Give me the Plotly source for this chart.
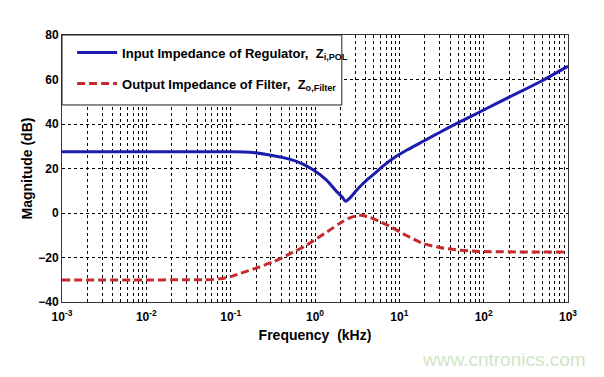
import plotly.graph_objects as go

# Input impedance of regulator (blue)
freq_in = [0.001, 0.01, 0.05, 0.1, 0.17, 0.29, 0.51, 0.72, 0.96, 1.37, 1.81, 2.1, 2.3,
           2.6, 2.9, 3.4, 4.1, 4.9, 6.5, 8.5, 12.3, 20, 30, 50, 91, 206, 468, 1000]
mag_in = [27.5, 27.5, 27.5, 27.5, 27.3, 26.1, 24.1, 22.0, 19.3, 14.8, 9.6, 7.2, 5.3,
          6.8, 8.9, 11.8, 14.8, 17.2, 21.3, 24.6, 28.3, 32.6, 36.2, 40.6, 45.5, 52.3, 59.0, 66.0]

# Output impedance of filter (red)
freq_out = [0.001, 0.01, 0.03, 0.05, 0.075, 0.1, 0.13, 0.2, 0.32, 0.5, 0.8, 1.4, 1.97, 2.5, 3.4, 4.5, 6.0, 7.8,
            12, 19, 30, 48, 80, 120, 1000]
mag_out = [-30.1, -30.1, -30.0, -30.0, -29.6, -28.6, -27.1, -24.8, -21.9, -18.4, -14.4, -8.4, -4.6, -2.4, -1.0,
           -2.0, -4.0, -6.1, -10.0, -13.6, -15.5, -16.6, -17.2, -17.4, -17.5]

x_tickvals = [1e-3, 1e-2, 1e-1, 1, 10, 100, 1000]
x_ticktext = ["10<sup>-3</sup>", "10<sup>-2</sup>", "10<sup>-1</sup>", "10<sup>0</sup>",
              "10<sup>1</sup>", "10<sup>2</sup>", "10<sup>3</sup>"]
y_tickvals = [-40, -20, 0, 20, 40, 60, 80]

name_in = "Input Impedance of Regulator,  Z<sub>i,POL</sub>"
name_out = "Output Impedance of Filter,  Z<sub>o,Filter</sub>"

FONT = "Liberation Sans, Arial, sans-serif"

fig = go.Figure()
fig.add_trace(go.Scatter(x=freq_in, y=mag_in, mode="lines", name=name_in,
                         line=dict(color="#1c1cae", width=3, shape="spline", smoothing=0.8),
                         legendgroup="a"))
fig.add_trace(go.Scatter(x=freq_out, y=mag_out, mode="lines", name=name_out,
                         line=dict(color="#c62a2c", width=3, dash="8px,4px", shape="spline", smoothing=0.8),
                         legendgroup="b"))

# legend box background (covers the grid like the original)
fig.add_shape(type="rect", xref="paper", yref="paper", x0=0, x1=0.553, y0=0.738, y1=1,
              fillcolor="white", line=dict(color="#222", width=1), layer="above")

# page body has an 8px margin, so the figure is 8px smaller and margins shifted
fig.update_layout(
    width=596, height=369,
    margin=dict(l=54, r=36, t=27, b=75),
    paper_bgcolor="white", plot_bgcolor="white",
    font=dict(family=FONT, color="black", size=12, weight="bold"),
    showlegend=True,
    legend=dict(x=0.02, y=0.99, xanchor="left", yanchor="top",
                bgcolor="rgba(0,0,0,0)", borderwidth=0,
                font=dict(family=FONT, size=13, weight="bold"),
                traceorder="grouped", tracegroupgap=11, itemwidth=40),
    xaxis=dict(type="log", range=[-3, 3], tickvals=x_tickvals, ticktext=x_ticktext,
               showgrid=True, gridcolor="black", griddash="dot", gridwidth=1,
               minor=dict(dtick="D1", showgrid=True, gridcolor="black", griddash="dot", gridwidth=1, ticks=""),
               showline=True, linecolor="#333", linewidth=1, mirror=True, ticks="",
               tickfont=dict(size=12, weight="bold"), ticklabelstandoff=4,
               title=dict(text="Frequency  (kHz)", font=dict(size=14, weight="bold"), standoff=6),
               zeroline=False),
    yaxis=dict(range=[-40, 80], tickvals=y_tickvals,
               showgrid=True, gridcolor="black", griddash="dot", gridwidth=1,
               showline=True, linecolor="#333", linewidth=1, mirror=True, ticks="",
               tickfont=dict(size=12, weight="bold"),
               title=dict(text="Magnitude (dB)", font=dict(size=14, weight="bold"), standoff=2),
               zeroline=False),
)

fig.add_annotation(text="www.cntronics.com", xref="paper", yref="paper", x=1.04, y=-0.215,
                   xanchor="right", yanchor="middle", showarrow=False,
                   font=dict(family="Liberation Sans, Arial, sans-serif", size=19, color="#cfe5c8", weight="normal"))

fig.write_html("out.html")
